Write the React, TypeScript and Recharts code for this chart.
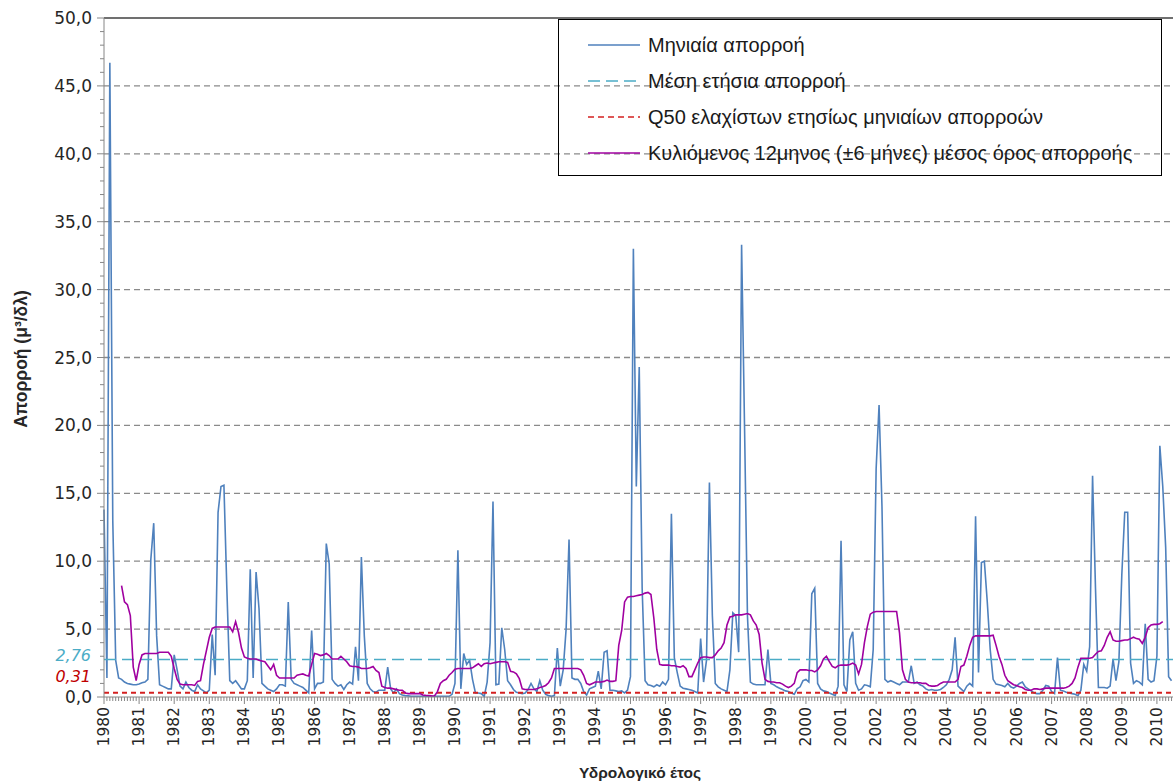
import React from 'react';
import {
  LineChart,
  Line,
  XAxis,
  YAxis,
  CartesianGrid,
  ReferenceLine,
} from 'recharts';

// hydrological years shown on the x axis (one label every 12 months)
const yearLabels = [
  1980, 1981, 1982, 1983, 1984, 1985, 1986, 1987, 1988, 1989, 1990, 1991, 1992,
  1993, 1994, 1995, 1996, 1997, 1998, 1999, 2000, 2001, 2002, 2003, 2004, 2005,
  2006, 2007, 2008, 2009, 2010,
];

// monthly runoff (m3/s), one row per hydrological year
const flow1980s = [
  13.8, 1.4, 46.7, 13.0, 2.7, 1.4, 1.3, 1.1, 1.0, 0.95, 0.9, 0.9,
  0.95, 1.05, 1.1, 1.3, 10.1, 12.8, 4.5, 0.9, 0.8, 0.7, 0.6, 0.6,
  3.1, 2.0, 0.8, 0.6, 1.1, 0.7, 0.5, 0.4, 0.9, 0.6, 0.45, 0.3,
  0.5, 4.6, 1.6, 13.6, 15.5, 15.6, 8.0, 1.2, 1.0, 1.2, 0.9, 0.6,
  0.6, 1.2, 9.4, 1.4, 9.2, 6.5, 1.0, 0.8, 0.6, 0.5, 0.4, 0.6,
  0.9, 0.9, 0.8, 7.0, 1.3, 1.0, 0.9, 0.8, 0.7, 0.5, 0.3, 4.9,
  0.6, 1.0, 1.0, 1.1, 11.3, 9.8, 1.3, 1.0, 0.8, 0.9, 0.55, 0.9,
  1.1, 0.95, 3.7, 1.2, 10.3, 4.5, 1.0, 0.6, 0.4, 0.35, 0.5, 0.5,
  0.5, 2.2, 0.6, 0.3, 0.6, 0.25, 0.15, 0.1, 0.08, 0.05, 0.05, 0.05,
  0.05, 0.05, 0.05, 0.05, 0.05, 0.05, 0.05, 0.05, 0.05, 0.05, 0.05, 0.2,
];
const flow1990s = [
  1.0, 10.8, 0.6, 3.2, 2.4, 2.7, 1.3, 0.3, 0.3, 0.25, 0.05, 1.1,
  4.0, 14.4, 0.9, 0.95, 5.1, 3.5, 1.2, 0.9, 0.55, 0.35, 0.3, 0.25,
  0.3, 0.55, 1.0, 0.6, 0.4, 1.2, 0.5, 0.2, 0.1, 0.05, 0.1, 3.6,
  0.8, 2.0, 5.0, 11.6, 1.4, 1.3, 1.3, 1.0, 0.4, 0.15, 0.6, 0.7,
  0.8, 1.9, 0.6, 3.3, 3.4, 0.5, 0.5, 0.45, 0.4, 0.45, 0.3, 0.5,
  1.5, 33.0, 15.5, 24.3, 8.0, 1.2, 0.9, 0.85, 0.75, 0.9, 0.8, 1.1,
  0.9, 1.3, 13.5, 2.9, 1.8, 0.8, 0.65, 0.6, 0.55, 0.5, 0.4, 0.3,
  4.3, 1.1, 2.7, 15.8, 6.0, 1.0, 0.75, 0.6, 0.5, 0.4, 2.0, 6.2,
  6.0, 3.3, 33.3, 20.0, 6.0, 1.1, 0.95, 0.9, 0.9, 0.9, 0.9, 3.5,
  1.0, 0.9, 0.75, 0.65, 0.55, 0.45, 0.4, 0.3, 0.2, 0.6, 0.75, 1.2,
];
const flow2000s = [
  1.3, 1.1, 7.6, 8.0, 1.0, 0.6, 0.45, 0.4, 0.3, 0.2, 0.1, 0.8,
  11.5, 0.9, 0.4, 4.2, 4.8, 1.0, 0.5, 0.6, 0.9, 0.85, 0.75, 3.5,
  16.8, 21.5, 14.0, 1.3, 1.1, 1.2, 1.1, 1.0, 0.9, 1.1, 1.1, 1.1,
  2.3, 1.0, 1.1, 0.9, 0.8, 0.6, 0.5, 0.55, 0.5, 0.5, 0.55, 0.7,
  0.9, 1.3, 2.0, 4.4, 0.8, 0.6, 0.4, 0.8, 1.0, 0.8, 13.3, 1.8,
  9.9, 10.0, 7.0, 3.5, 1.3, 0.95, 0.9, 0.85, 0.75, 1.0, 0.75, 0.65,
  0.8, 1.0, 1.1, 0.75, 0.6, 0.45, 0.3, 0.25, 0.25, 0.5, 0.85, 0.8,
  0.4, 0.25, 2.9, 0.5, 0.45, 0.35, 0.3, 0.25, 0.2, 0.1, 0.5, 2.4,
  1.9, 3.7, 16.3, 8.0, 0.7, 0.7, 0.7, 0.65, 0.8, 2.8, 1.2, 2.6,
  9.0, 13.6, 13.6, 2.5, 1.0, 1.2, 1.1, 0.9, 5.4, 1.3, 1.1, 1.2,
  3.0, 18.5, 15.5, 11.0, 1.5, 1.2,
];

// 12-month rolling mean (±6 months)
const avg1980s = [
  null, null, null, null, null, null, 8.2, 7.0, 6.8, 6.0, 2.2, 1.2,
  2.4, 3.1, 3.2, 3.2, 3.2, 3.2, 3.2, 3.3, 3.3, 3.3, 3.3, 3.0,
  2.1, 1.3, 0.95, 0.9, 0.9, 0.9, 0.9, 0.85, 1.15, 1.2, 2.4, 3.4,
  4.4, 5.05, 5.15, 5.15, 5.15, 5.15, 5.15, 5.15, 4.8, 5.55, 4.75, 3.6,
  2.95, 2.85, 2.8, 2.8, 2.8, 2.7, 2.65, 2.6, 2.3, 2.0, 2.4, 1.6,
  1.4, 1.4, 1.4, 1.4, 1.4, 1.4, 1.6, 1.65, 1.7, 1.6, 1.55, 2.4,
  3.2, 3.15, 3.05, 3.1, 3.2, 3.05, 2.8, 2.8, 2.8, 3.0, 2.8, 2.6,
  2.3, 2.25, 2.25, 2.2, 2.1, 2.1, 2.1, 2.15, 2.25, 1.95, 1.8, 0.8,
  0.7, 0.65, 0.65, 0.6, 0.55, 0.5, 0.5, 0.3, 0.25, 0.25, 0.25, 0.25,
  0.25, 0.15, 0.12, 0.1, 0.08, 0.07, 0.4, 1.0, 1.2, 1.3, 1.6, 1.8,
];
const avg1990s = [
  2.05, 2.1, 2.1, 2.1, 2.1, 2.1, 2.15, 2.3, 2.45, 2.25, 2.45, 2.5,
  2.45, 2.5, 2.55, 2.6, 2.6, 2.6, 2.55, 1.9, 1.85, 1.7, 1.35, 0.6,
  0.55, 0.55, 0.55, 0.55, 0.6, 0.7, 0.75, 0.85, 1.05, 1.4, 2.1, 2.1,
  2.1, 2.1, 2.1, 2.1, 2.1, 2.1, 2.1, 2.0, 1.6, 1.0, 0.9, 1.0,
  1.1, 1.1, 1.1, 1.15, 1.25, 1.15, 1.15, 1.2, 3.8, 4.9, 7.0, 7.35,
  7.4, 7.4, 7.45, 7.5, 7.55, 7.65, 7.7, 7.55, 5.8, 3.5, 2.4, 2.35,
  2.35, 2.35, 2.3, 2.3, 2.25, 2.2, 2.3, 2.1, 1.5, 1.5, 2.0, 2.5,
  2.9, 2.95, 2.95, 2.9, 2.9, 3.1, 3.4, 3.6, 4.0, 5.3, 5.9, 5.95,
  6.05, 6.05, 6.05, 6.1, 6.15, 6.05, 5.6, 5.3, 4.6, 2.5, 1.3, 1.15,
  1.1, 1.1, 1.05, 1.05, 0.95, 0.8, 0.7, 0.8, 1.0, 1.8, 2.0, 2.0,
];
const avg2000s = [
  2.0, 1.95, 1.95, 1.85, 2.0, 2.3, 2.8, 3.0, 2.6, 2.25, 2.15, 2.3,
  2.35, 2.35, 2.35, 2.4, 2.5, 2.35, 1.7, 2.4, 4.0, 5.2, 6.1, 6.25,
  6.3, 6.3, 6.3, 6.3, 6.3, 6.3, 6.3, 6.3, 4.7, 2.0, 1.3, 1.1,
  1.05, 1.05, 1.05, 1.05, 1.0, 1.0, 0.85, 0.8, 0.8, 0.85, 1.0, 1.1,
  1.1, 1.1, 1.1, 1.1, 1.3, 2.25, 2.35, 3.0, 3.8, 4.4, 4.5, 4.5,
  4.5, 4.5, 4.5, 4.5, 4.55, 3.8, 3.0, 2.4, 1.6, 1.2, 1.05, 0.9,
  0.85, 0.75, 0.7, 0.55, 0.5, 0.5, 0.6, 0.6, 0.55, 0.6, 0.65, 0.65,
  0.65, 0.65, 0.65, 0.65, 0.65, 0.7, 0.8, 1.0, 1.4, 2.2, 2.85, 2.85,
  2.85, 2.85, 2.9, 3.15, 3.35, 3.4, 3.8, 4.4, 4.8, 4.2, 4.1, 4.1,
  4.15, 4.2, 4.2, 4.3, 4.4, 4.3, 4.25, 3.95, 4.4, 5.1, 5.3, 5.35,
  5.35, 5.4, 5.55, null, null, null,
];

const meanAnnual = 2.76;
const q50Min = 0.31;

const flow = [...flow1980s, ...flow1990s, ...flow2000s];
const rolling = [...avg1980s, ...avg1990s, ...avg2000s];
const data = flow.map((v, i) => ({ m: i, flow: v, avg: rolling[i] }));

const monthTicks = flow.map((_, i) => i);
const valueTicks = Array.from({ length: 51 }, (_, k) => k);

const AXIS = '#868686';
const BLUE = '#4f81bd';
const CYAN = '#4bacc6';
const RED = '#d42020';
const PURPLE = '#a000a0';

const MonthTick = (props: any) => {
  const { x, y, payload } = props;
  const m = payload.value as number;
  const major = m % 12 === 0;
  const ly = y + 10;
  return (
    <g>
      <line x1={x} x2={x} y1={y} y2={y + (major ? 7 : 4)} stroke={AXIS} />
      {major && (
        <text
          x={x}
          y={ly}
          transform={`rotate(-90 ${x} ${ly})`}
          textAnchor='end'
          dominantBaseline='central'
          fontFamily='DejaVu Sans'
          fontSize={15.5}
          fill='#262626'
        >
          {yearLabels[m / 12]}
        </text>
      )}
    </g>
  );
};

const ValueTick = (props: any) => {
  const { x, y, payload } = props;
  const v = payload.value as number;
  const major = v % 5 === 0;
  return (
    <g>
      <line x1={x - (major ? 7 : 4)} x2={x} y1={y} y2={y} stroke={AXIS} />
      {major && (
        <text
          x={x - 12}
          y={y}
          textAnchor='end'
          dominantBaseline='central'
          fontFamily='DejaVu Sans'
          fontSize={17}
          fill='#262626'
        >
          {v.toFixed(1).replace('.', ',')}
        </text>
      )}
    </g>
  );
};

// value label drawn left of the axis, raised above its reference line
const lineLabel = (text: string, color: string, rise: number) => (props: any) => {
  const vb = props.viewBox || {};
  return (
    <text
      x={(vb.x ?? 104) - 13}
      y={(vb.y ?? 0) - rise}
      textAnchor='end'
      dominantBaseline='central'
      fontFamily='DejaVu Sans'
      fontStyle='italic'
      fontSize={16}
      fill={color}
    >
      {text}
    </text>
  );
};

const legendItems = [
  { label: 'Μηνιαία απορροή', color: BLUE, dash: undefined },
  { label: 'Μέση ετήσια απορροή', color: CYAN, dash: '12 6' },
  { label: 'Q50 ελαχίστων ετησίως μηνιαίων απορροών', color: RED, dash: '6 4' },
  { label: 'Κυλιόμενος 12μηνος (±6 μήνες) μέσος όρος απορροής', color: PURPLE, dash: undefined },
];

export default function App() {
  return (
    <div style={{ position: 'absolute', left: 0, top: 0, width: 1173, height: 782, background: '#fff' }}>
      <LineChart
        width={1173}
        height={782}
        data={data}
        margin={{ top: 18, right: 0, left: 0, bottom: 0 }}
      >
        <CartesianGrid
          vertical={false}
          horizontalValues={[5, 10, 15, 20, 25, 30, 35, 40, 45]}
          stroke='#8a8a8a'
          strokeWidth={1.3}
          strokeDasharray='6 4'
        />
        <XAxis
          dataKey='m'
          type='number'
          domain={[0, 365.5]}
          ticks={monthTicks}
          interval={0}
          tick={<MonthTick />}
          tickLine={false}
          tickSize={0}
          tickMargin={0}
          axisLine={{ stroke: AXIS }}
          height={85}
          label={{
            content: () => (
              <text
                x={640}
                y={772}
                textAnchor='middle'
                dominantBaseline='central'
                fontFamily='Liberation Sans'
                fontWeight='bold'
                fontSize={15.5}
                fill='#262626'
              >
                Υδρολογικό έτος
              </text>
            ),
          }}
        />
        <YAxis
          type='number'
          domain={[0, 50]}
          ticks={valueTicks}
          interval={0}
          tick={<ValueTick />}
          tickLine={false}
          tickSize={0}
          tickMargin={0}
          axisLine={{ stroke: AXIS }}
          width={104}
          label={{
            content: () => (
              <text
                x={21}
                y={359}
                transform='rotate(-90 21 359)'
                textAnchor='middle'
                dominantBaseline='central'
                fontFamily='Liberation Sans'
                fontWeight='bold'
                fontSize={17.5}
                fill='#262626'
              >
                Απορροή (μ³/δλ)
              </text>
            ),
          }}
        />
        <ReferenceLine y={50} stroke='#404040' strokeWidth={1.3} />
        <Line
          type='linear'
          dataKey='flow'
          stroke={BLUE}
          strokeWidth={1.6}
          dot={false}
          isAnimationActive={false}
        />
        <ReferenceLine
          y={meanAnnual}
          stroke={CYAN}
          strokeWidth={1.5}
          strokeDasharray='12 6'
          label={lineLabel('2,76', CYAN, 4)}
        />
        <ReferenceLine
          y={q50Min}
          stroke={RED}
          strokeWidth={2}
          strokeDasharray='5 4'
          label={lineLabel('0,31', '#c00000', 16)}
        />
        <Line
          type='linear'
          dataKey='avg'
          stroke={PURPLE}
          strokeWidth={1.6}
          dot={false}
          connectNulls={false}
          isAnimationActive={false}
        />
      </LineChart>

      <div
        style={{
          position: 'absolute',
          left: 558,
          top: 19,
          width: 604,
          height: 157,
          border: '1px solid #000',
          boxSizing: 'border-box',
          paddingTop: 7,
          fontFamily: 'Liberation Sans',
          fontSize: 20,
          color: '#1a1a1a',
        }}
      >
        {legendItems.map((it) => (
          <div key={it.label} style={{ display: 'flex', alignItems: 'center', height: 36 }}>
            <svg width={52} height={10} style={{ marginLeft: 29, marginRight: 8, flexShrink: 0 }}>
              <line
                x1={0}
                x2={52}
                y1={5}
                y2={5}
                stroke={it.color}
                strokeWidth={1.5}
                strokeDasharray={it.dash}
              />
            </svg>
            <span style={{ whiteSpace: 'nowrap' }}>{it.label}</span>
          </div>
        ))}
      </div>
    </div>
  );
}
